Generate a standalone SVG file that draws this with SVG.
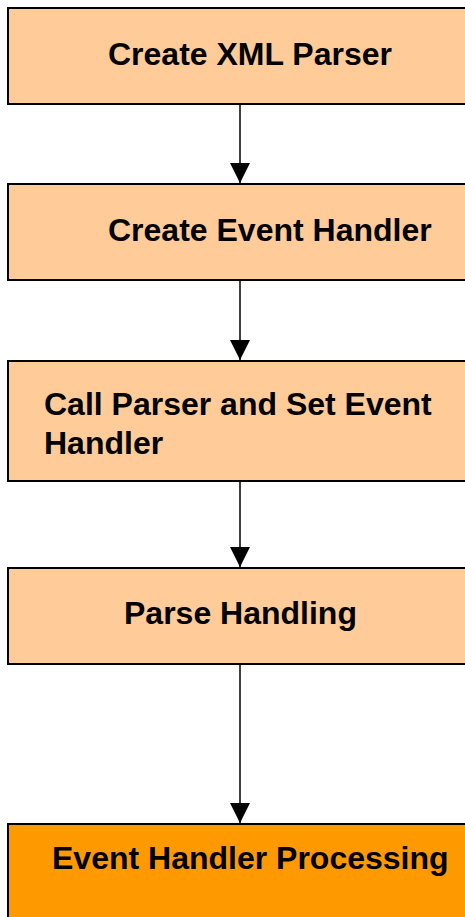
<svg xmlns="http://www.w3.org/2000/svg" width="465" height="917" viewBox="0 0 465 917">
<style>
.box{stroke:#000;stroke-width:2}
.light{fill:#FFCC99}
.dark{fill:#FF9900}
.t{font-family:"Liberation Sans",Arial,sans-serif;font-weight:bold;font-size:32px;fill:#000}
.c{stroke:#000;stroke-width:1.5;fill:none}
</style>
<defs>
<marker id="ah" markerUnits="userSpaceOnUse" markerWidth="20" markerHeight="20" refX="20" refY="10" orient="auto">
<path d="M0,0 L20,10 L0,20 Z" fill="#000"/>
</marker>
</defs>
<rect width="465" height="917" fill="#fff"/>
<g id="connectors">
<line class="c" x1="240" y1="104" x2="240" y2="183" marker-end="url(#ah)"/>
<line class="c" x1="240" y1="280" x2="240" y2="360" marker-end="url(#ah)"/>
<line class="c" x1="240" y1="481" x2="240" y2="567" marker-end="url(#ah)"/>
<line class="c" x1="240" y1="664" x2="240" y2="823" marker-end="url(#ah)"/>
</g>
<g id="n1">
<rect class="box light" x="8" y="8" width="470" height="96"/>
<text class="t" x="108" y="65">Create XML Parser</text>
</g>
<g id="n2">
<rect class="box light" x="8" y="184" width="470" height="96"/>
<text class="t" x="108" y="241">Create Event Handler</text>
</g>
<g id="n3">
<rect class="box light" x="8" y="361" width="470" height="120"/>
<text class="t" x="44" y="415">Call Parser and Set Event</text>
<text class="t" x="44" y="454">Handler</text>
</g>
<g id="n4">
<rect class="box light" x="8" y="568" width="470" height="96"/>
<text class="t" x="124" y="624">Parse Handling</text>
</g>
<g id="n5">
<rect class="box dark" x="8" y="824" width="470" height="110"/>
<text class="t" x="52" y="869">Event Handler Processing</text>
</g>
</svg>
